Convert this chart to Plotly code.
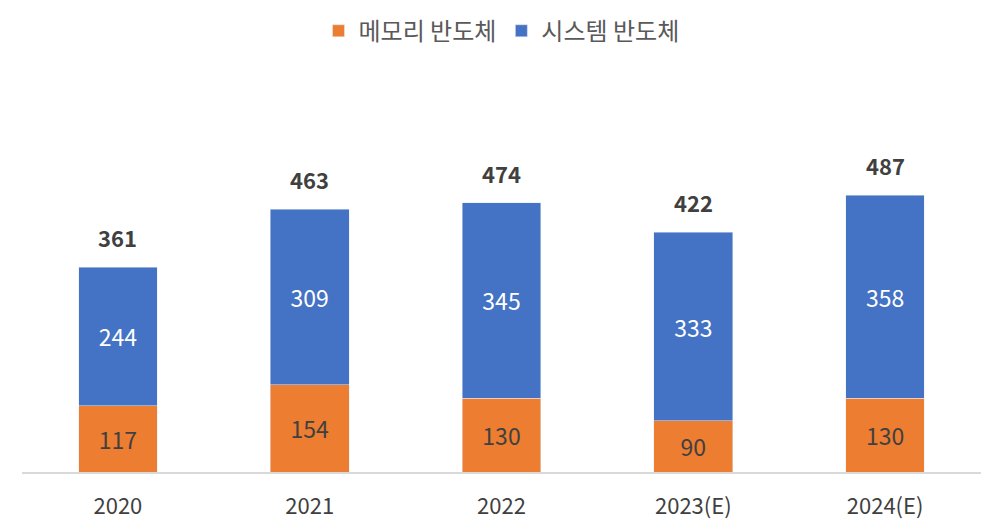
import plotly.graph_objects as go

years = ["2020", "2021", "2022", "2023(E)", "2024(E)"]
memory = [117, 154, 130, 90, 130]
system = [244, 309, 345, 333, 358]
totals = [361, 463, 474, 422, 487]

font_family = "Noto Sans CJK KR"

fig = go.Figure()

fig.add_trace(go.Bar(x=years, y=memory, name="메모리 반도체",
                     marker=dict(color="#ED7D31"),
                     text=memory, textposition="inside", insidetextanchor="middle",
                     textfont=dict(size=23, color="#404040", family=font_family)))

fig.add_trace(go.Bar(x=years, y=system, name="시스템 반도체",
                     marker=dict(color="#4472C4"),
                     text=system, textposition="inside", insidetextanchor="middle",
                     textfont=dict(size=23, color="white", family=font_family)))

# totals above each stack (x by category index, the year strings look numeric)
for i, (m, s, t) in enumerate(zip(memory, system, totals)):
    fig.add_annotation(x=i, y=m + s, text="<b>%d</b>" % t, showarrow=False,
                       yanchor="bottom", yshift=12,
                       font=dict(size=22, color="#404040", family=font_family))

# page body has an 8px margin, so margins are shifted to compensate
fig.update_layout(
    width=1004, height=532,
    barmode="stack", bargap=0.59,
    plot_bgcolor="white", paper_bgcolor="white",
    margin=dict(l=14, r=31, t=92, b=68, autoexpand=False),
    font=dict(family=font_family, color="#404040"),
    legend=dict(orientation="h", x=0.5, xanchor="center", y=1.185, yanchor="middle",
                font=dict(size=24, color="#595959"), traceorder="normal"),
    uniformtext=dict(mode="show", minsize=10),
)

fig.update_xaxes(type="category", showline=True, linecolor="#D9D9D9", linewidth=1.5,
                 tickfont=dict(size=22, color="#404040"), ticks="",
                 ticklabelstandoff=14)
fig.update_yaxes(range=[0, 656], visible=False, showgrid=False)

fig.write_html("out.html")
